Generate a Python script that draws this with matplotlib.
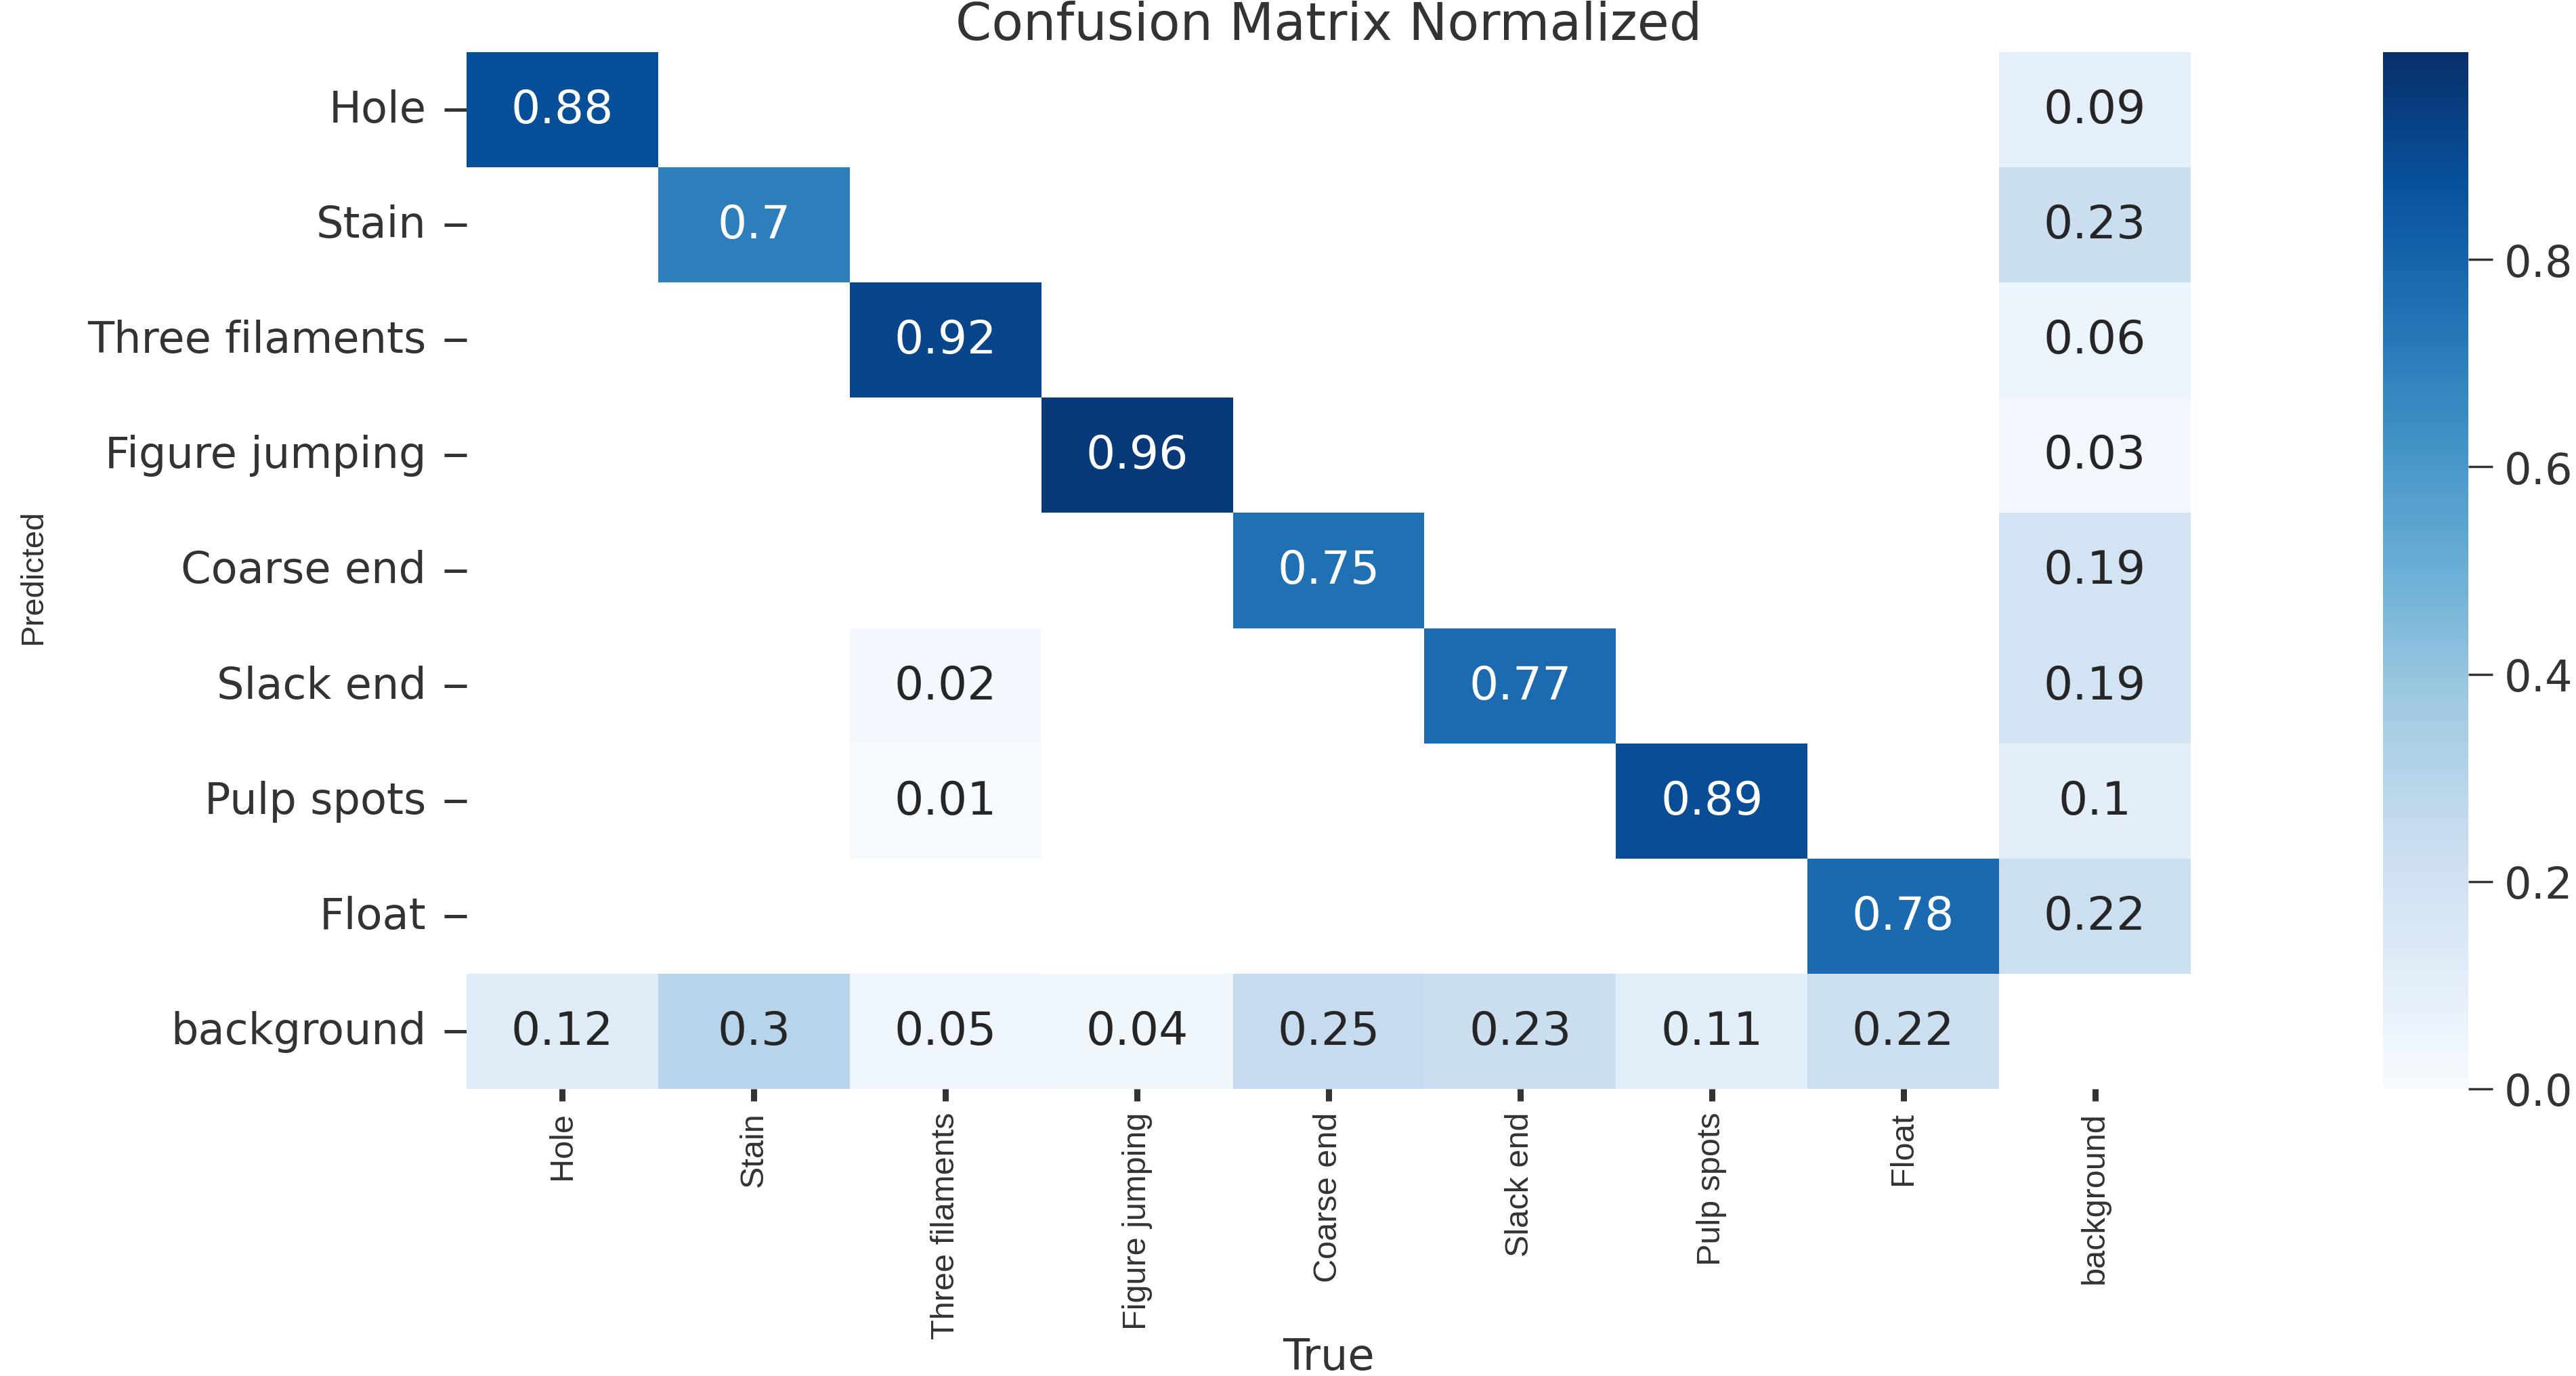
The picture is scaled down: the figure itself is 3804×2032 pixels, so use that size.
import numpy as np
import pandas as pd
import matplotlib
matplotlib.use('Agg')
import matplotlib.pyplot as plt
import seaborn as sns

# class names (rows = predicted, columns = true)
names = ['Hole', 'Stain', 'Three filaments', 'Figure jumping', 'Coarse end',
         'Slack end', 'Pulp spots', 'Float', 'background']
nan = np.nan

# one list per predicted class (empty cells = nan)
pred_hole = [0.88, nan, nan, nan, nan, nan, nan, nan, 0.09]
pred_stain = [nan, 0.7, nan, nan, nan, nan, nan, nan, 0.23]
pred_three_filaments = [nan, nan, 0.92, nan, nan, nan, nan, nan, 0.06]
pred_figure_jumping = [nan, nan, nan, 0.96, nan, nan, nan, nan, 0.03]
pred_coarse_end = [nan, nan, nan, nan, 0.75, nan, nan, nan, 0.19]
pred_slack_end = [nan, nan, 0.02, nan, nan, 0.77, nan, nan, 0.19]
pred_pulp_spots = [nan, nan, 0.01, nan, nan, nan, 0.89, nan, 0.1]
pred_float = [nan, nan, nan, nan, nan, nan, nan, 0.78, 0.22]
pred_background = [0.12, 0.3, 0.05, 0.04, 0.25, 0.23, 0.11, 0.22, nan]

matrix = pd.DataFrame([pred_hole, pred_stain, pred_three_filaments, pred_figure_jumping,
                       pred_coarse_end, pred_slack_end, pred_pulp_spots, pred_float,
                       pred_background], index=names, columns=names)

sns.set_style('ticks')
plt.rcParams['font.family'] = ['DejaVu Sans']

W, H = 3805, 2033
fig = plt.figure(figsize=(W / 100, H / 100), dpi=100, facecolor='white')

# heatmap box and colorbar box in pixels of the final picture
left, right, top, bottom = 689, 3235, 78, 1609
ax = fig.add_axes([left / W, 1 - bottom / H, (right - left) / W, (bottom - top) / H])
cax = fig.add_axes([3519 / W, 1 - bottom / H, (3645 - 3519) / W, (bottom - top) / H])

sns.heatmap(matrix, ax=ax, cbar_ax=cax, cmap='Blues', vmin=0.0, vmax=1.0,
            annot=True, fmt='.2g', annot_kws={'size': 49, 'family': 'DejaVu Sans'},
            xticklabels=names, yticklabels=names)
ax.set_facecolor('white')

# y tick labels (horizontal)
ax.tick_params(axis='y', length=24, width=3.6, pad=19, colors='.2')
for t in ax.get_yticklabels():
    t.set_rotation(0)
    t.set_fontfamily('DejaVu Sans')
    t.set_fontsize(46)

# x tick labels (vertical)
ax.tick_params(axis='x', length=13, width=6.5, pad=11, colors='.2')
for t in ax.get_xticklabels():
    t.set_rotation(90)
    t.set_fontfamily('Liberation Sans')
    t.set_fontsize(35)

ax.set_title('Confusion Matrix Normalized', fontsize=55, pad=14, color='.2',
             family='DejaVu Sans')
ax.set_xlabel('True', fontsize=46, color='.2', family='DejaVu Sans')
ax.set_ylabel('Predicted', fontsize=34, color='.2', family='Liberation Sans')
ax.xaxis.set_label_coords(0.5, -0.2384)
ax.yaxis.set_label_coords(-0.2425, 0.4944)

# colorbar
cax.set_yticks([0.0, 0.2, 0.4, 0.6, 0.8])
cax.tick_params(length=26, width=2.5, pad=12, labelsize=46, colors='.2')

fig.savefig('out.png', dpi=100, facecolor='white')
